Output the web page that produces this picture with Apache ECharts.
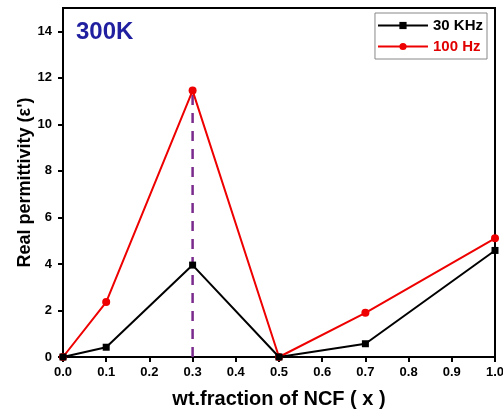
<!DOCTYPE html>
<html>
<head>
<meta charset="utf-8">
<script src="https://cdn.jsdelivr.net/npm/echarts@6/dist/echarts.min.js"></script>
<style>
  html, body { margin: 0; padding: 0; background: #fff; }
  #chart { width: 503px; height: 412px; }
</style>
</head>
<body>
<div id="chart"></div>
<script>
// Weight fraction of NCF (x)
const fractions = [0.0, 0.1, 0.3, 0.5, 0.7, 1.0];
// Real permittivity at 30 KHz and 100 Hz
const khz30 = [0.0, 0.42, 3.95, 0.0, 0.57, 4.58];
const hz100 = [0.0, 2.36, 11.45, 0.0, 1.9, 5.1];
// Vertical guide at the peak composition
const peakX = 0.3;
const peakY = 11.45;

const pairs = (xs, ys) => xs.map((x, i) => [x, ys[i]]);
const font = '"Liberation Sans", Arial, sans-serif';

const chart = echarts.init(document.getElementById('chart'), null, { renderer: 'canvas' });
chart.setOption({
  animation: false,
  backgroundColor: '#fff',
  textStyle: { fontFamily: font },
  grid: {
    left: 63, right: 8, top: 8, bottom: 55,
    containLabel: false, outerBoundsMode: 'none',
    show: true, borderColor: '#000', borderWidth: 2, backgroundColor: 'transparent'
  },
  title: {
    text: '300K', left: 71, top: 15,
    textStyle: { color: '#1f1fa0', fontSize: 24, fontWeight: 'bold', fontFamily: font }
  },
  legend: {
    right: 16, top: 13, orient: 'vertical',
    borderColor: '#888', borderWidth: 1, padding: [5, 4, 5, 2],
    itemWidth: 50, itemHeight: 9, itemGap: 6,
    data: [
      { name: '30 KHz', textStyle: { color: '#000' } },
      { name: '100 Hz', textStyle: { color: '#e00000' } }
    ],
    textStyle: { fontSize: 15, fontWeight: 'bold', fontFamily: font }
  },
  xAxis: {
    type: 'value', min: 0, max: 1, interval: 0.1,
    name: 'wt.fraction of NCF ( x )', nameLocation: 'middle', nameGap: 32,
    nameMoveOverlap: false,
    nameTextStyle: { fontSize: 20, fontWeight: 'bold', color: '#000', fontFamily: font },
    axisLine: { lineStyle: { color: '#000', width: 2 } },
    axisTick: { show: true, inside: false, length: 5, lineStyle: { color: '#000', width: 2 } },
    axisLabel: { color: '#000', fontSize: 13, fontWeight: 'bold', margin: 9,
      formatter: v => v.toFixed(1) },
    splitLine: { show: false }
  },
  yAxis: {
    type: 'value', min: 0, max: 15, interval: 2,
    name: "Real permittivity (\u03b5')", nameLocation: 'middle', nameGap: 29,
    nameMoveOverlap: false,
    nameTextStyle: { fontSize: 18, fontWeight: 'bold', color: '#000', fontFamily: font },
    axisLine: { show: true, lineStyle: { color: '#000', width: 2 } },
    axisTick: { show: true, inside: false, length: 5, lineStyle: { color: '#000', width: 2 } },
    axisLabel: { color: '#000', fontSize: 13, fontWeight: 'bold', margin: 11, showMaxLabel: false },
    splitLine: { show: false }
  },
  series: [
    {
      name: 'peak', type: 'line', data: [[peakX, 0], [peakX, peakY]],
      symbol: 'none', silent: true, z: 1,
      lineStyle: { color: '#7a2a8c', width: 2.5, type: [10, 8] }
    },
    {
      name: '30 KHz', type: 'line', data: pairs(fractions, khz30),
      symbol: 'rect', symbolSize: 7, z: 3,
      itemStyle: { color: '#000' }, lineStyle: { color: '#000', width: 2 }
    },
    {
      name: '100 Hz', type: 'line', data: pairs(fractions, hz100),
      symbol: 'circle', symbolSize: 8, z: 2,
      itemStyle: { color: '#ee0000' }, lineStyle: { color: '#ee0000', width: 2 }
    }
  ]
});
</script>
</body>
</html>
